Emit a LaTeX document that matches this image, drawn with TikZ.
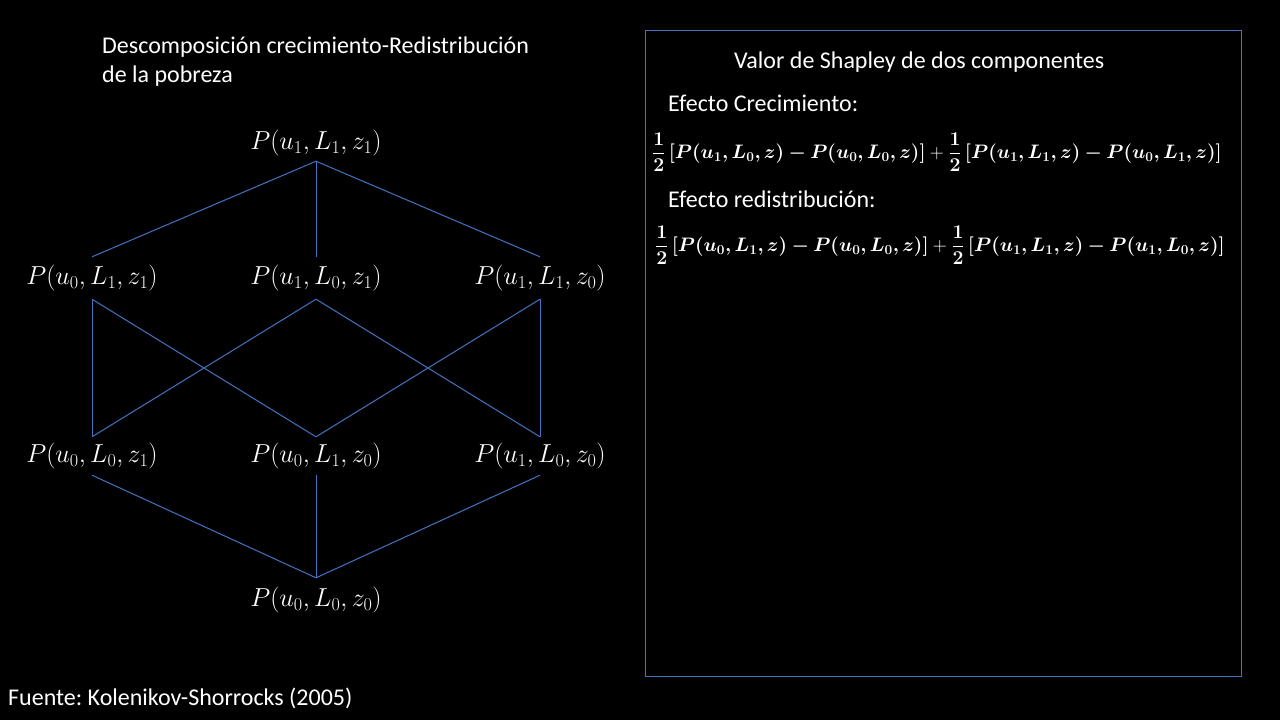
\RequirePackage{fix-cm}
\documentclass[tikz,border=0pt]{standalone}
\usepackage{amsmath}
\usepackage{bm}
\usepackage[no-math]{fontspec}
\setmainfont{Carlito}
\frenchspacing
\definecolor{edgeblue}{HTML}{4472C4}
\tikzset{
  lab/.style={text=white, inner sep=0pt, font=\fontsize{26}{30}\selectfont},
  txt/.style={text=white, inner sep=0pt, anchor=west, font=\fontsize{24}{29}\selectfont},
  formula/.style={text=white, inner sep=0pt, anchor=west, font=\fontsize{19.5}{24}\selectfont},
  edge/.style={draw=edgeblue, line width=1pt},
}
\begin{document}
\begin{tikzpicture}[x=1pt,y=-1pt]
\useasboundingbox[fill=black] (0,0) rectangle (1280,720);
% title
\node[txt, align=left] (title) at (102,62) {Descomposición crecimiento-Redistribución\\de la pobreza};
% lattice nodes
\node[lab, minimum height=36] (t) at (316,143) {$P(u_1,L_1,z_1)$};
\node[lab, minimum height=42] (ml) at (92,278) {$P(u_0,L_1,z_1)$};
\node[lab, minimum height=42] (mc) at (316,278) {$P(u_1,L_0,z_1)$};
\node[lab, minimum height=42] (mr) at (540,278) {$P(u_1,L_1,z_0)$};
\node[lab, minimum height=38] (ll) at (92,456) {$P(u_0,L_0,z_1)$};
\node[lab, minimum height=38] (lc) at (316,456) {$P(u_0,L_1,z_0)$};
\node[lab, minimum height=38] (lr) at (540,456) {$P(u_1,L_0,z_0)$};
\node[lab, minimum height=44] (b) at (316,600) {$P(u_0,L_0,z_0)$};
% edges
\draw[edge] (t.south) -- (ml.north);
\draw[edge] (t.south) -- (mc.north);
\draw[edge] (t.south) -- (mr.north);
\draw[edge] (ml.south) -- (ll.north);
\draw[edge] (ml.south) -- (lc.north);
\draw[edge] (mc.south) -- (ll.north);
\draw[edge] (mc.south) -- (lr.north);
\draw[edge] (mr.south) -- (lc.north);
\draw[edge] (mr.south) -- (lr.north);
\draw[edge] (ll.south) -- (b.north);
\draw[edge] (lc.south) -- (b.north);
\draw[edge] (lr.south) -- (b.north);
% right box
\node[draw=edgeblue, line width=1pt, minimum width=596, minimum height=646, inner sep=0pt, anchor=north west] (box) at (645,30) {};
\node[txt] (shap) at (734,62) {Valor de Shapley de dos componentes};
\node[txt] (ec) at (668,103) {Efecto Crecimiento:};
\node[formula] (f1) at (652,152)
  {$\displaystyle \frac{\bm{1}}{\bm{2}}\,\bm{[P(u_1,L_0,z)-P(u_0,L_0,z)]}+\frac{\bm{1}}{\bm{2}}\,\bm{[P(u_1,L_1,z)-P(u_0,L_1,z)]}$};
\node[txt] (er) at (668,199) {Efecto redistribución:};
\node[formula] (f2) at (655,245)
  {$\displaystyle \frac{\bm{1}}{\bm{2}}\,\bm{[P(u_0,L_1,z)-P(u_0,L_0,z)]}+\frac{\bm{1}}{\bm{2}}\,\bm{[P(u_1,L_1,z)-P(u_1,L_0,z)]}$};
% source
\node[txt] (src) at (8,698) {Fuente: Kolenikov-Shorrocks (2005)};
\end{tikzpicture}
\end{document}
